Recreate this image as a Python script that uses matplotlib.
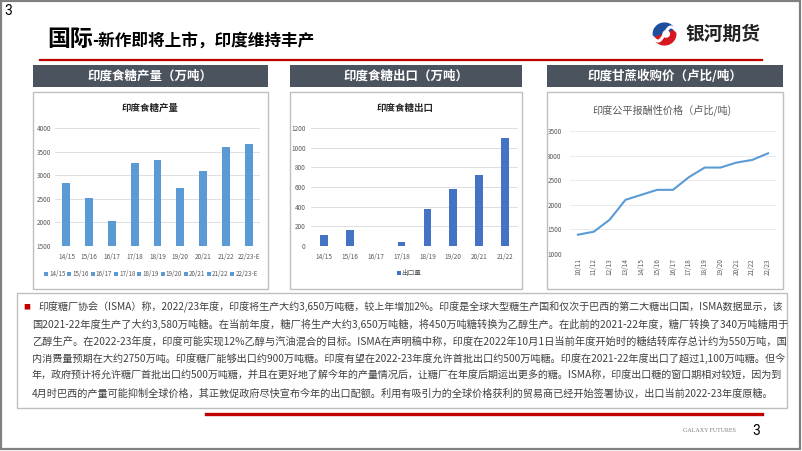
import matplotlib
matplotlib.use('Agg')
import matplotlib.pyplot as plt
from matplotlib.patches import Rectangle, Wedge
import numpy as np

plt.rcParams['font.family'] = ['Noto Sans CJK SC', 'DejaVu Sans']

# ---------------- data ----------------
prod_cats = ['14/15', '15/16', '16/17', '17/18', '18/19', '19/20', '20/21', '21/22', '22/23-E']
prod_vals = [2825, 2507, 2021, 3268, 3317, 2739, 3092, 3599, 3655]

exp_cats = ['14/15', '15/16', '16/17', '17/18', '18/19', '19/20', '20/21', '21/22']
exp_vals = [109, 164, 0, 41, 375, 576, 719, 1098]

frp_cats = ['10/11', '11/12', '12/13', '13/14', '14/15', '15/16', '16/17',
            '17/18', '18/19', '19/20', '20/21', '21/22', '22/23']
frp_vals = [1392, 1453, 1696, 2101, 2203, 2304, 2304, 2561, 2757, 2757, 2858, 2912, 3047]

panel_titles = ['印度食糖产量（万吨）', '印度食糖出口（万吨）', '印度甘蔗收购价（卢比/吨）']
chart_titles = ['印度食糖产量', '印度食糖出口', '印度公平报酬性价格（卢比/吨)']
exp_legend = '出口量'

main_title_big = '国际'
main_title_rest = '-新作即将上市，印度维持丰产'
logo_text = '银河期货'

body_lines = [
    '印度糖厂协会（ISMA）称，2022/23年度，印度将生产大约3,650万吨糖，较上年增加2%。印度是全球大型糖生产国和仅次于巴西的第二大糖出口国，ISMA数据显示，该',
    '国2021-22年度生产了大约3,580万吨糖。在当前年度，糖厂将生产大约3,650万吨糖，将450万吨糖转换为乙醇生产。在此前的2021-22年度，糖厂转换了340万吨糖用于',
    '乙醇生产。在2022-23年度，印度可能实现12%乙醇与汽油混合的目标。ISMA在声明稿中称，印度在2022年10月1日当前年度开始时的糖结转库存总计约为550万吨，国',
    '内消费量预期在大约2750万吨。印度糖厂能够出口约900万吨糖。印度有望在2022-23年度允许首批出口约500万吨糖。印度在2021-22年度出口了超过1,100万吨糖。但今',
    '年，政府预计将允许糖厂首批出口约500万吨糖，并且在更好地了解今年的产量情况后，让糖厂在年度后期运出更多的糖。ISMA称，印度出口糖的窗口期相对较短，因为到',
    '4月时巴西的产量可能抑制全球价格，其正敦促政府尽快宣布今年的出口配额。利用有吸引力的全球价格获利的贸易商已经开始签署协议，出口当前2022-23年度原糖。',
]

# ---------------- layout helpers ----------------
W, H = 802, 451
fig = plt.figure(figsize=(W / 100, H / 100), dpi=100)
fig.patch.set_facecolor('white')


def fx(x):
    return x / W


def fy(y):
    return 1 - y / H


def rect(x0, y0, x1, y1, **kw):
    fig.add_artist(Rectangle((fx(x0), fy(y1)), (x1 - x0) / W, (y1 - y0) / H,
                             transform=fig.transFigure, **kw))


def axes_px(x0, y0, x1, y1):
    return fig.add_axes([fx(x0), fy(y1), (x1 - x0) / W, (y1 - y0) / H])


RED = '#C00000'
HDR = '#4B535E'
TXT = '#595959'

# slide frame
rect(1, 1, 800, 449, fill=False, ec='#808080', lw=1.6)
fig.text(fx(4), fy(11), '3', fontsize=10, color='black', va='center', ha='left',
         family=['Roboto', 'DejaVu Sans'])

# title
fig.text(fx(47), fy(46), main_title_big, fontsize=16.5, weight='bold', color='black',
         va='baseline', ha='left')
fig.text(fx(92), fy(46), main_title_rest, fontsize=12, weight='bold', color='black',
         va='baseline', ha='left')
fig.add_artist(plt.Line2D([fx(40), fx(762)], [fy(60), fy(60)], color=RED, lw=1.6,
                          transform=fig.transFigure))

# logo
lax = axes_px(651, 22, 678, 46)
lax.set_xlim(-1.2, 1.2)
lax.set_ylim(-1.1, 1.1)
lax.axis('off')
lax.add_patch(Wedge((0, 0), 1.0, 20, 200, color='#1F4E9C'))
lax.add_patch(Wedge((0, 0), 1.0, 200, 380, color='#D7191F'))
xs = np.linspace(-1.05, 1.05, 60)
lax.plot(xs, 0.36 * xs + 0.45 * np.sin(np.pi * xs), color='white', lw=2.2)
lax.add_patch(Wedge((0.15, 0.0), 0.28, 0, 360, color='white'))
fig.text(fx(685), fy(34), logo_text, fontsize=13.5, weight='bold', color='#222222',
         va='center', ha='left')

# panel headers and boxes
panels = [(33, 268), (290, 522), (547, 783)]
for (x0, x1), t in zip(panels, panel_titles):
    rect(x0, 65, x1, 87, fc=HDR, ec='none')
    fig.text(fx((x0 + x1) / 2), fy(76), t, fontsize=9, weight='bold', color='white',
             va='center', ha='center')
    rect(x0, 92, x1, 289, fill=False, ec='#BFBFBF', lw=1.0)


def style_ax(ax, grid_color='#D9D9D9'):
    for s in ax.spines.values():
        s.set_visible(False)
    ax.tick_params(length=0, labelsize=4.6, labelcolor=TXT)
    ax.grid(axis='y', color=grid_color, lw=0.6)
    ax.set_axisbelow(True)
    ax.set_facecolor('none')


# chart 1 : production
ax1 = axes_px(55, 128, 260, 246)
x1 = np.arange(len(prod_cats))
ax1.bar(x1, prod_vals, width=0.35, color='#5B9BD5', bottom=0)
ax1.set_ylim(1500, 4000)
ax1.set_xlim(-0.5, len(prod_cats) - 0.5)
ax1.set_yticks(np.arange(1500, 4001, 500))
ax1.set_xticks(x1)
ax1.set_xticklabels(prod_cats)
style_ax(ax1)
ax1.tick_params(axis='y', pad=3)
ax1.tick_params(axis='x', pad=5)
fig.text(fx(150), fy(108), chart_titles[0], fontsize=6.8, weight='bold', color='#262626',
         va='center', ha='center')
for i, c in enumerate(prod_cats):
    lx = 44 + 23.3 * i
    rect(lx, 271.5, lx + 4, 275.5, fc='#5B9BD5', ec='none')
    fig.text(fx(lx + 5), fy(273.7), c, fontsize=4.5, color=TXT, va='center', ha='left')

# chart 2 : exports
ax2 = axes_px(311, 128, 518, 246)
x2 = np.arange(len(exp_cats))
ax2.bar(x2, exp_vals, width=0.3, color='#4472C4')
ax2.set_ylim(0, 1200)
ax2.set_xlim(-0.5, len(exp_cats) - 0.5)
ax2.set_yticks(np.arange(0, 1201, 200))
ax2.set_xticks(x2)
ax2.set_xticklabels(exp_cats)
style_ax(ax2)
ax2.tick_params(axis='y', pad=4)
ax2.tick_params(axis='x', pad=5)
fig.text(fx(405), fy(108), chart_titles[1], fontsize=6.8, weight='bold', color='#262626',
         va='center', ha='center')
rect(397, 271, 400.5, 275, fc='#4472C4', ec='none')
fig.text(fx(401.5), fy(273.2), exp_legend, fontsize=4.8, color=TXT, va='center', ha='left')

# chart 3 : FRP line
ax3 = axes_px(570, 131, 776, 254)
x3 = np.arange(len(frp_cats))
ax3.plot(x3, frp_vals, color='#5B9BD5', lw=1.5)
ax3.set_ylim(1000, 3500)
ax3.set_xlim(-0.5, len(frp_cats) - 0.5)
ax3.set_yticks(np.arange(1000, 3501, 500))
ax3.set_xticks(x3)
ax3.set_xticklabels(frp_cats, rotation=90)
style_ax(ax3, grid_color='#E6E6E6')
ax3.tick_params(axis='y', pad=6)
ax3.tick_params(axis='x', pad=3)
fig.text(fx(662), fy(110), chart_titles[2], fontsize=7.3, color=TXT,
         va='center', ha='center')

# text box
rect(17, 293, 787, 408, fill=False, ec='#BFBFBF', lw=1.0)
fig.text(fx(27), fy(307), '■', fontsize=5, color=RED, va='center', ha='center')
renderer = fig.canvas.get_renderer()
ys = [307, 324.3, 341.6, 358.9, 376.2, 393.5]
base_fs = 7.3
for i, ln in enumerate(body_lines):
    x0 = 38 if i == 0 else 32
    t = fig.text(fx(x0), fy(ys[i]), ln, fontsize=base_fs, color='#404040',
                 va='center', ha='left')
    if i < len(body_lines) - 1:
        w = t.get_window_extent(renderer=renderer).width
        target = 785 - x0
        t.set_fontsize(base_fs * min(max(target / w, 0.9), 1.1))

# footer
fig.add_artist(plt.Line2D([fx(206), fx(762)], [fy(414), fy(414)], color=RED, lw=2.4,
                          transform=fig.transFigure))
fig.text(fx(709), fy(431), 'GALAXY FUTURES', fontsize=4.3, color='#7F7F7F',
         va='center', ha='center', family=['Liberation Serif', 'DejaVu Serif'])
fig.text(fx(756), fy(431), '3', fontsize=10, color='black', va='center', ha='center',
         family=['Roboto', 'DejaVu Sans'])

fig.savefig('out.png', dpi=100, facecolor='white')
